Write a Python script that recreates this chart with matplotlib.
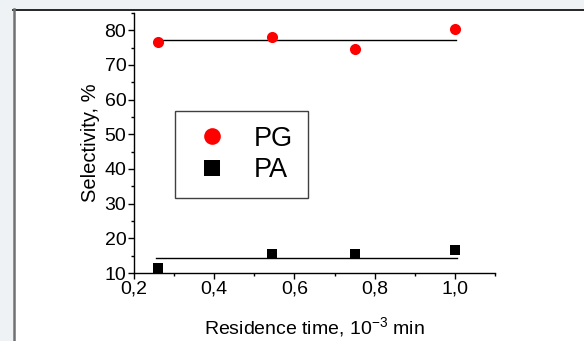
import matplotlib
matplotlib.use('Agg')
import matplotlib.pyplot as plt
from matplotlib.patches import Rectangle
from matplotlib.lines import Line2D
from matplotlib.ticker import MultipleLocator

plt.rcParams['font.family'] = ['Liberation Sans', 'DejaVu Sans']

# data
time_x = [0.261, 0.545, 0.75, 1.0]
pg_sel = [76.6, 78.2, 74.5, 80.4]
pa_sel = [11.5, 15.6, 15.4, 16.5]

pg_fit_x = [0.262, 1.003]
pg_fit_y = [77.3, 77.3]
pa_fit_x = [0.255, 1.006]
pa_fit_y = [14.2, 14.2]

xticks = [0.2, 0.4, 0.6, 0.8, 1.0]
xticklabels = ['0,2', '0,4', '0,6', '0,8', '1,0']
yticks = [10, 20, 30, 40, 50, 60, 70, 80]

W, H = 584, 341
fig = plt.figure(figsize=(W / 100, H / 100), dpi=100)
fig.patch.set_facecolor('#eef2f4')

# white slide panel behind the chart
fig.patches.append(Rectangle((13 / W, -0.1), 1.2, 1 - 9 / H + 0.1, transform=fig.transFigure,
                             facecolor='white', edgecolor='none', zorder=-10))
fig.lines.append(Line2D([13 / W, 1.0], [1 - 9.5 / H, 1 - 9.5 / H], transform=fig.transFigure,
                        color='black', linewidth=1.2, zorder=-9))
fig.lines.append(Line2D([13.5 / W, 13.5 / W], [0, 1 - 9 / H], transform=fig.transFigure,
                        color='#707070', linewidth=1.8, zorder=-9))

ax = fig.add_axes([134 / W, 1 - 273 / H, (495 - 134) / W, (273 - 13) / H])
ax.set_facecolor('none')

ax.plot(pg_fit_x, pg_fit_y, color='black', linewidth=1.0, zorder=2)
ax.plot(pa_fit_x, pa_fit_y, color='black', linewidth=1.0, zorder=2)
ax.plot(time_x, pg_sel, 'o', color='#ff0000', markersize=8, markeredgewidth=0, zorder=3, label='PG')
ax.plot(time_x, pa_sel, 's', color='black', markersize=7.5, markeredgewidth=0, zorder=3, label='PA')

ax.set_xlim(0.2, 1.1)
ax.set_ylim(10, 85)
ax.set_xticks(xticks)
ax.set_xticklabels(xticklabels)
ax.set_yticks(yticks)
ax.xaxis.set_minor_locator(MultipleLocator(0.1))
ax.yaxis.set_minor_locator(MultipleLocator(5))

for s in ['top', 'right']:
    ax.spines[s].set_visible(False)
for s in ['left', 'bottom']:
    ax.spines[s].set_linewidth(1.0)

ax.tick_params(which='major', direction='out', length=4, width=1, labelsize=14, pad=1.5)
ax.tick_params(which='minor', direction='out', length=2.2, width=1)

ax.set_xlabel('Residence time, 10$^{\\mathregular{-3}}$ min', fontsize=14, labelpad=13)
ax.set_ylabel('Selectivity, %', fontsize=14.5, labelpad=3)

leg = ax.legend(loc='upper left', bbox_to_anchor=((175 - 134) / (495 - 134), (273 - 110.7) / 260),
                fontsize=19.5, frameon=True, fancybox=False, framealpha=1,
                edgecolor='#404040', handletextpad=0.75, borderpad=0.55, labelspacing=0.2,
                markerscale=1.5, handlelength=1.6, borderaxespad=0)
leg.get_frame().set_linewidth(1.0)

plt.savefig('out.png', dpi=100, facecolor=fig.get_facecolor())
